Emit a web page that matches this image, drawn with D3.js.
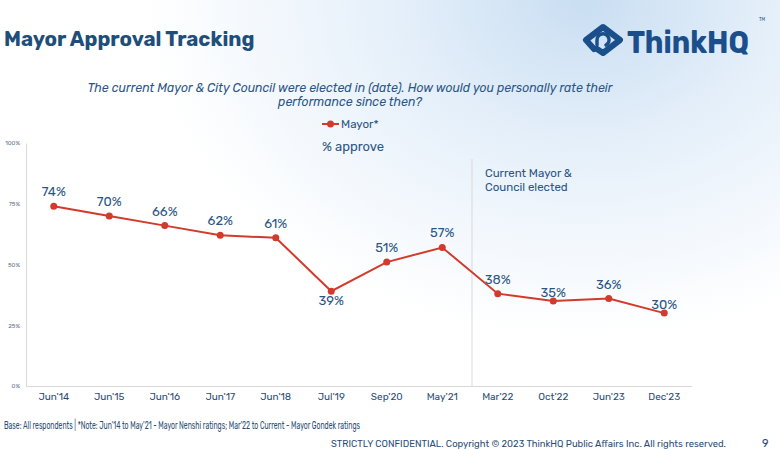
<!DOCTYPE html>
<html><head><meta charset="utf-8">
<script src="https://cdn.jsdelivr.net/npm/d3@7"></script>
<style>
html,body{margin:0;padding:0;background:#fff;}
svg{display:block;}
</style></head>
<body>
<script>
const categories = ["Jun'14","Jun'15","Jun'16","Jun'17","Jun'18","Jul'19","Sep'20","May'21","Mar'22","Oct'22","Jun'23","Dec'23"];
const mayorValues = [74,70,66,62,61,39,51,57,38,35,36,30];
const yTicks = [0,25,50,75,100];
const seriesName = "Mayor*";

const W = 780, H = 449;
const blue = "#1f4e79", textBlue = "#2b5584", red = "#d23a2c";
const font = "Rubik, 'Open Sans', 'Noto Sans', sans-serif";

const svg = d3.select("body").append("svg").attr("width", W).attr("height", H);
const defs = svg.append("defs");
const grad = defs.append("radialGradient").attr("id","bg").attr("cx","100%").attr("cy","0%").attr("r","75%")
  .attr("fx","100%").attr("fy","0%").attr("gradientTransform","scale(0.75,1)");
grad.append("stop").attr("offset","0%").attr("stop-color","#c9def2");
grad.append("stop").attr("offset","45%").attr("stop-color","#e6f0fa");
grad.append("stop").attr("offset","100%").attr("stop-color","#ffffff");
svg.append("rect").attr("width",W).attr("height",H).attr("fill","#fff");
svg.append("rect").attr("width",W).attr("height",H).attr("fill","url(#bg)");

// Title
svg.append("text").attr("x",4).attr("y",46).text("Mayor Approval Tracking")
  .attr("font-family",font).attr("font-weight",700).attr("font-size",20.5).attr("fill",blue);

// Logo
const logoColor = "#1a4f8b";
const logo = svg.append("g").attr("transform","translate(582,23)");
logo.append("path").attr("d","M12,26 L4,17 L21,4 L38,17 L21,30 L15,26")
  .attr("fill","none").attr("stroke",logoColor).attr("stroke-width",6).attr("stroke-linejoin","round").attr("stroke-linecap","round");
logo.append("path").attr("d","M15,22 L15,17 A6,6 0 1 1 24,22")
  .attr("fill","none").attr("stroke",logoColor).attr("stroke-width",3.5).attr("stroke-linecap","round");
svg.append("text").attr("x",627).attr("y",53).text("ThinkHQ")
  .attr("font-family",font).attr("font-weight",700).attr("font-size",31).attr("fill",logoColor)
  .attr("textLength",122).attr("lengthAdjust","spacingAndGlyphs");
svg.append("text").attr("x",759).attr("y",21).text("TM").attr("font-family",font).attr("font-size",4.5).attr("fill",logoColor);

// Subtitle
const sub = svg.append("text").attr("font-family",font).attr("font-style","italic").attr("font-size",12.3).attr("fill",textBlue).attr("text-anchor","middle");
sub.append("tspan").attr("x",350).attr("y",92).text("The current Mayor & City Council were elected in (date). How would you personally rate their");
sub.append("tspan").attr("x",350).attr("y",106).text("performance since then?");

// Legend
const lg = svg.append("g").attr("transform","translate(322,124)");
lg.append("line").attr("x1",0).attr("x2",17).attr("stroke",red).attr("stroke-width",2);
lg.append("circle").attr("cx",8.5).attr("r",3.5).attr("fill",red);
lg.append("text").attr("x",19).attr("y",4).text(seriesName).attr("font-family",font).attr("font-size",11.5).attr("fill",textBlue);

svg.append("text").attr("x",353).attr("y",151).attr("text-anchor","middle").text("% approve")
  .attr("font-family",font).attr("font-size",13).attr("fill",textBlue);

// Scales
const x = d3.scaleBand().domain(categories).range([26,692]);
const y = d3.scaleLinear().domain([0,100]).range([386,143]);

// Y axis
const yAxis = svg.append("g").attr("transform","translate(26,0)")
  .call(d3.axisLeft(y).tickValues(yTicks).tickFormat(d=>d+"%").tickSize(0).tickPadding(6));
yAxis.select(".domain").attr("stroke","#d9d9d9");
yAxis.selectAll("text").attr("font-family",font).attr("font-size",6).attr("fill","#5a6f88");

// X axis
const xAxis = svg.append("g").attr("transform","translate(0,386)")
  .call(d3.axisBottom(x).tickSize(0).tickPadding(7));
xAxis.select(".domain").attr("stroke","#d9d9d9").attr("d","M26,0.5H692");
xAxis.selectAll("text").attr("font-family",font).attr("font-size",10).attr("fill","#2b4d75");

// Divider line between May'21 and Mar'22
const divX = (x("May'21") + x("Mar'22") + x.bandwidth())/2 + 2;
svg.append("line").attr("x1",divX).attr("x2",divX).attr("y1",159).attr("y2",386).attr("stroke","#d9d9d9");
const ann = svg.append("text").attr("font-family",font).attr("font-size",11.5).attr("fill",textBlue);
ann.append("tspan").attr("x",divX+13).attr("y",177).text("Current Mayor &");
ann.append("tspan").attr("x",divX+13).attr("y",191).text("Council elected");

// Line
const cx = d => x(d.c) + x.bandwidth()/2;
const data = categories.map((c,i)=>({c, v: mayorValues[i], i}));
svg.append("path").datum(data)
  .attr("d", d3.line().x(cx).y(d=>y(d.v)))
  .attr("fill","none").attr("stroke",red).attr("stroke-width",2);
svg.selectAll("circle.pt").data(data).enter().append("circle").attr("class","pt")
  .attr("cx",cx).attr("cy",d=>y(d.v)).attr("r",3.5).attr("fill",red);

// Labels
const labelOffset = d => d.c==="Jul'19" ? 14 : (d.c==="Oct'22"||d.c==="Dec'23") ? -4 : -10;
svg.selectAll("text.lbl").data(data).enter().append("text").attr("class","lbl")
  .attr("x",cx).attr("y",d=>y(d.v)+labelOffset(d)).attr("text-anchor","middle")
  .text(d=>d.v+"%").attr("font-family",font).attr("font-size",13).attr("fill","#2b5584");

// Footer
svg.append("text").attr("x",4).attr("y",429).text("Base: All respondents | *Note: Jun’14 to May’21 - Mayor Nenshi ratings; Mar’22 to Current - Mayor Gondek ratings")
  .attr("font-family",font).attr("font-size",10.5).attr("fill","#2b4d75").attr("textLength",356).attr("lengthAdjust","spacingAndGlyphs");
svg.append("text").attr("x",331).attr("y",447).text("STRICTLY CONFIDENTIAL. Copyright © 2023 ThinkHQ Public Affairs Inc. All rights reserved.")
  .attr("font-family",font).attr("font-size",9).attr("fill","#2b4d75").attr("textLength",395).attr("lengthAdjust","spacingAndGlyphs");
svg.append("text").attr("x",762).attr("y",447).text("9").attr("font-family",font).attr("font-size",11).attr("fill","#2b4d75");
</script>
</body></html>
